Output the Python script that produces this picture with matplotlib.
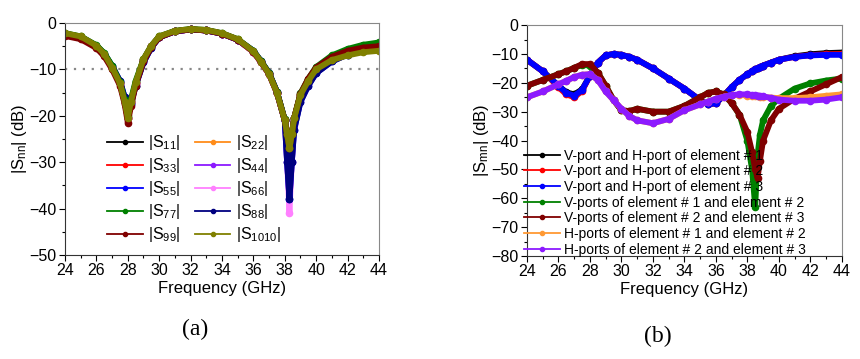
import matplotlib
matplotlib.use("Agg")
import matplotlib.pyplot as plt
from matplotlib.lines import Line2D
from matplotlib.ticker import MultipleLocator

plt.rcParams['font.family'] = ['Liberation Sans', 'DejaVu Sans']
plt.rcParams['mathtext.fontset'] = 'custom'
plt.rcParams['mathtext.rm'] = 'Liberation Sans'
plt.rcParams['mathtext.it'] = 'Liberation Sans:italic'

# ---- (a) reflection coefficients ----
freq_a = [24, 25, 26, 26.5, 27, 27.5, 27.8, 28, 28.2, 28.5, 29, 29.5, 30, 31, 32, 33, 34,
          35, 36, 36.5, 37, 37.5, 38, 38.15, 38.3, 38.45, 38.6, 39, 39.5, 40, 41, 42, 43, 44]
s_base = [-2.3, -3.0, -5.0, -6.8, -9.6, -13, -17, -20.5, -17, -13, -8, -5, -3.0, -1.8, -1.4, -1.6, -2.3,
          -3.6, -6.2, -8.5, -11, -15, -21, -24, -27, -24, -20.5, -15.5, -12.5, -10, -7.8, -6.6, -5.8, -5.2]
s_blue = [-2.3, -3.0, -4.9, -6.6, -9.3, -12.5, -16, -18.5, -17.5, -13.5, -8.5, -5.3, -3.1, -1.8, -1.4, -1.6, -2.3,
          -3.6, -6.0, -8.3, -10.8, -14.8, -21, -30, -38, -30, -23, -17, -13.5, -10.8, -8.3, -6.8, -6.0, -5.5]
s_pink = [-2.3, -3.0, -5.0, -6.8, -9.6, -13, -17, -20.5, -17, -13, -8, -5, -3.0, -1.8, -1.4, -1.6, -2.3,
          -3.6, -6.2, -8.5, -11, -15, -21, -30, -41, -30, -22, -16, -13, -10.3, -8, -6.7, -5.9, -5.3]
s_green = [-2.2, -2.9, -4.8, -6.5, -9.2, -12.8, -16.5, -20, -16.5, -12.5, -7.8, -4.9, -2.9, -1.7, -1.3, -1.5, -2.2,
           -3.5, -6.0, -8.3, -10.8, -14.8, -20.8, -24, -27, -24, -20.5, -15.2, -12, -9.5, -7.0, -5.6, -4.7, -4.2]
s_dred = [-2.8, -3.5, -5.4, -7.2, -10, -13.5, -17.5, -21.5, -18, -13.5, -8.3, -5.2, -3.1, -1.8, -1.4, -1.6, -2.3,
          -3.6, -6.2, -8.5, -11, -15, -21, -24, -27, -24, -20.5, -15.3, -12, -9.6, -7.3, -6.0, -5.3, -5.0]
s_olive = [-2.2, -2.9, -4.9, -6.7, -9.6, -13, -17, -20.5, -17, -12.8, -7.8, -4.9, -2.9, -1.7, -1.3, -1.5, -2.2,
           -3.5, -6.1, -8.4, -11, -15, -21, -24, -27, -24, -20.5, -15.5, -12.5, -10, -8, -7, -6.3, -6.0]

labels_a = [r'|S$_{11}$|', r'|S$_{22}$|', r'|S$_{33}$|', r'|S$_{44}$|', r'|S$_{55}$|',
            r'|S$_{66}$|', r'|S$_{77}$|', r'|S$_{88}$|', r'|S$_{99}$|', r'|S$_{1010}$|']
colors_a = ['#000000', '#ff8c1a', '#ff0000', '#8c1aff', '#0000ff',
            '#ff80ff', '#008000', '#000080', '#800000', '#808000']
curves_a = [s_base, s_base, s_base, s_base, s_blue, s_pink, s_green, s_blue, s_dred, s_olive]
# draw order so that olive ends on top like the original
order_a = [0, 1, 2, 3, 5, 4, 7, 6, 8, 9]

# ---- (b) mutual coupling ----
freq_b = [24, 25, 26, 26.5, 27, 27.5, 28, 28.5, 29, 29.5, 30, 30.5, 31, 32, 33, 34, 35, 35.5,
          36, 36.5, 37, 37.5, 38, 38.3, 38.5, 38.65, 38.8, 39, 39.5, 40, 41, 42, 43, 44]
vh_el1 = [-12, -16, -21, -23.3, -24, -22.3, -17.5, -13, -10.5, -10, -10.3, -11, -12, -15, -18.5, -22, -26, -27.5,
          -27, -24.5, -21.5, -19, -17, -16, -15.3, -15, -14.6, -14, -13, -12, -10.8, -10.1, -9.7, -9.5]
vh_el2 = [-12, -16, -21.5, -24, -25, -22.8, -17.5, -13, -10.5, -10, -10.3, -11, -12, -15, -18.5, -22, -26, -27.5,
          -27, -24.5, -21.5, -19, -17, -16, -15.3, -15, -14.6, -14, -13, -12, -11, -10.4, -10.1, -10]
vh_el3 = [-12, -16, -21, -23.5, -24.5, -22.5, -17.5, -13, -10.5, -10, -10.3, -11, -12, -15, -18.5, -22, -26, -27.5,
          -27, -24.5, -21.5, -19, -17, -16, -15.3, -15, -14.6, -14, -13, -12, -11, -10.5, -10.3, -10.3]
v_el12 = [-21, -19, -17, -16, -14.8, -13.8, -14, -16.5, -21, -26, -29.5, -29.8, -29, -30, -30, -28, -25, -23.5,
          -23, -24, -27, -31, -40, -50, -63, -45, -38, -33, -28, -25.5, -22, -20.2, -19.2, -18.5]
v_el23 = [-21, -19, -17, -16, -14.8, -13.5, -13.5, -16.5, -21, -26, -29.5, -29.8, -29, -30, -30, -28, -25, -23.5,
          -23, -24, -27, -31, -37, -44, -50, -53, -47, -40, -33, -29, -25.5, -23, -20.5, -18]
h_el12 = [-25, -23, -20.5, -19.3, -18, -17.2, -17, -19, -23, -26, -29, -31.5, -33, -34, -32.5, -29.5, -27.5, -26.5,
          -25.5, -24.8, -24.3, -24.2, -24.4, -24.5, -24.6, -24.7, -24.8, -24.9, -25.1, -25.3, -25.3, -25, -24.5, -24]
h_el23 = [-25, -23, -20.5, -19.3, -18, -17.2, -17, -19, -23, -26, -29, -31.5, -33, -34, -32.5, -29.5, -27.5, -26.5,
          -25.5, -24.8, -24.2, -24, -24, -24.2, -24.3, -24.4, -24.5, -24.7, -25.2, -25.8, -26.2, -26.2, -25.8, -25]

labels_b = ['V-port and H-port of element # 1', 'V-port and H-port of element # 2',
            'V-port and H-port of element # 3', 'V-ports of element # 1 and element # 2',
            'V-ports of element # 2 and element # 3', 'H-ports of element # 1 and element # 2',
            'H-ports of element # 2 and element # 3']
colors_b = ['#000000', '#ff0000', '#0000ff', '#008000', '#800000', '#ff9933', '#8c1aff']
curves_b = [vh_el1, vh_el2, vh_el3, v_el12, v_el23, h_el12, h_el23]


def style_axes(ax, ymin, ymax, ymajor, yminor):
    ax.set_xlim(24, 44)
    ax.set_ylim(ymin, ymax)
    ax.xaxis.set_major_locator(MultipleLocator(2))
    ax.xaxis.set_minor_locator(MultipleLocator(1))
    ax.yaxis.set_major_locator(MultipleLocator(ymajor))
    ax.yaxis.set_minor_locator(MultipleLocator(yminor))
    ax.tick_params(which='major', direction='out', length=4, width=0.8, labelsize=11.5, pad=2)
    ax.tick_params(which='minor', direction='out', length=2.5, width=0.8)
    for s in ['top', 'right']:
        ax.spines[s].set_color('#888888')
    for s in ['left', 'bottom']:
        ax.spines[s].set_color('#333333')
    ax.set_xlabel('Frequency (GHz)', fontsize=12, labelpad=2)


fig = plt.figure(figsize=(8.6, 3.59), dpi=100)

ax1 = fig.add_axes([0.0756, 0.290, 0.365, 0.646])
style_axes(ax1, -50, 0, 10, 5)
ax1.axhline(-10, color='#888888', ls=(0, (1, 3)), lw=1.6, zorder=1)
for i in order_a:
    ax1.plot(freq_a, curves_a[i], color=colors_a[i], lw=4.2, marker='o', ms=4.5,
             solid_capstyle='round', solid_joinstyle='round', zorder=2)
ax1.set_ylabel(r'|S$_{\mathrm{nn}}$| (dB)', fontsize=12, labelpad=0)
handles_a = [Line2D([], [], color=c, lw=1.3, marker='o', ms=3) for c in colors_a]
# legend fills column by column, so put odd labels in column 1
ha = handles_a[0::2] + handles_a[1::2]
la = labels_a[0::2] + labels_a[1::2]
ax1.legend(ha, la, ncol=2, loc='upper left', bbox_to_anchor=(0.135, 0.525), frameon=False,
           fontsize=11.5, handlelength=2.2, handletextpad=0.35, columnspacing=0.9,
           labelspacing=0.25, borderaxespad=0, borderpad=0)

ax2 = fig.add_axes([0.6128, 0.287, 0.366, 0.643])
style_axes(ax2, -80, 0, 10, 5)
for c, y in zip(colors_b, curves_b):
    ax2.plot(freq_b, y, color=c, lw=4.2, marker='o', ms=4.5,
             solid_capstyle='round', solid_joinstyle='round')
ax2.set_ylabel(r'|S$_{\mathrm{mn}}$| (dB)', fontsize=12, labelpad=0)
handles_b = [Line2D([], [], color=c, lw=1.3, marker='o', ms=3) for c in colors_b]
ax2.legend(handles_b, labels_b, loc='upper left', bbox_to_anchor=(-0.01, 0.465), frameon=False,
           fontsize=10, handlelength=2.6, handletextpad=0.3, labelspacing=0.12,
           borderaxespad=0, borderpad=0)

fig.text(0.227, 0.068, '(a)', family='Liberation Serif', fontsize=17, ha='center')
fig.text(0.765, 0.048, '(b)', family='Liberation Serif', fontsize=17, ha='center')

fig.savefig('out.png', dpi=100)
